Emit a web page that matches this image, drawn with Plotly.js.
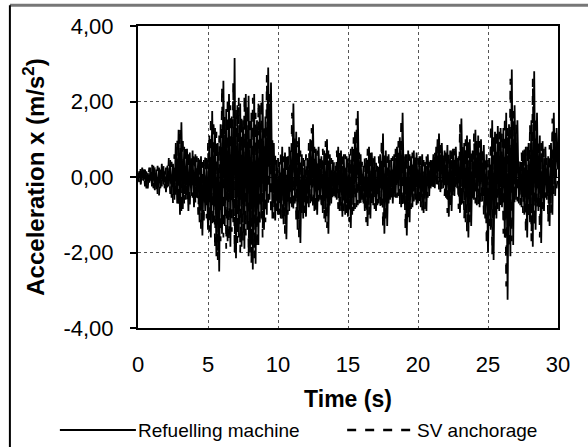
<!DOCTYPE html>
<html>
<head>
<meta charset="utf-8">
<script src="https://cdn.plot.ly/plotly-3.0.1.min.js"></script>
<style>html,body{margin:0;padding:0;background:#fff}#chart{width:588px;height:447px}</style>
</head>
<body>
<div id="chart"></div>
<script>
// sampling step (s) of both records, start time 0 s
const dt = 0.1;
const seriesNames = ["Refuelling machine", "SV anchorage"];
const xTickVals = [0, 5, 10, 15, 20, 25, 30];
const yTickVals = [-4, -2, 0, 2, 4];
const yTickText = ["-4,00", "-2,00", "0,00", "2,00", "4,00"];

// Refuelling machine acceleration (m/s2), 0.1 s steps from 0 to 30 s
const refuelling = [
 0.00, 0.15,-0.20, 0.25,-0.10, 0.20,-0.30, 0.10,-0.15, 0.25,
-0.25, 0.30,-0.35, 0.20,-0.45, 0.25,-0.30, 0.35,-0.20, 0.15,
-0.40, 0.30,-0.25, 0.45,-0.55, 0.35,-0.60, 0.90,-0.70, 1.25,
-1.00, 1.45,-0.85, 0.80,-0.60, 0.75,-0.90, 0.65,-0.50, 0.70,
-0.80, 0.60,-0.55, 0.50,-1.20, 0.55,-1.55, 0.45,-0.90, 0.50,
-1.40, 1.10,-1.60, 1.75,-1.20, 1.30,-2.10, 0.90,-2.50, 1.40,
-1.50, 2.55,-1.30, 1.80,-1.70, 2.20,-1.85, 1.60,-1.20, 3.15,
-2.15, 1.90,-1.60, 1.95,-1.85, 1.50,-1.90, 2.20,-1.40, 2.15,
-2.00, 1.70,-2.45, 2.20,-2.30, 1.50,-1.80, 1.90,-1.10, 2.20,
-1.40, 1.60,-1.00, 2.90,-0.60, 2.50,-1.10, 0.90,-1.15, 0.45,
-1.00, 0.40,-1.10, 0.80,-1.25, 0.65,-1.65, 0.55,-0.90, 0.70,
-0.80, 1.95,-0.70, 1.20,-1.40, 1.05,-1.75, 0.60,-1.10, 0.45,
-1.05, 0.50,-0.80, 1.00,-0.65, 1.40,-0.90, 0.75,-1.00, 0.80,
-0.60, 0.55,-0.95, 0.70,-1.20, 1.00,-1.50, 0.60,-0.70, 0.45,
-0.50, 0.30,-0.60, 0.80,-0.90, 0.70,-1.05, 0.60,-1.00, 0.55,
-1.05, 0.60,-1.35, 0.80,-0.90, 1.20,-0.80, 1.75,-0.70, 0.60,
-0.60, 0.30,-0.90, 0.50,-1.30, 0.80,-1.10, 0.65,-0.75, 0.55,
-0.90, 0.30,-0.70, 0.60,-0.75, 1.15,-1.50, 0.70,-1.30, 0.60,
-0.60, 0.50,-0.70, 0.60,-0.55, 0.80,-0.50, 1.05,-0.80, 1.70,
-0.70, 0.60,-1.55, 0.70,-1.20, 0.55,-0.80, 0.70,-0.60, 0.65,
-0.70, 0.55,-0.80, 0.60,-0.95, 0.40,-0.90, 0.60,-0.50, 0.45,
-0.25, 0.60,-0.30, 0.80,-0.20, 1.15,-0.40, 0.90,-0.30, 0.70,
-0.55, 0.85,-1.05, 0.70,-0.90, 0.75,-0.50, 0.80,-0.30, 0.55,
-0.95, 1.55,-0.70, 0.90,-1.20, 1.10,-1.60, 1.00,-1.30, 0.70,
-0.60, 1.25,-0.75, 1.10,-0.80, 1.00,-0.65, 0.85,-1.10, 0.60,
-2.00, 0.50,-1.40, 1.50,-2.20, 1.20,-1.10, 1.35,-0.90, 1.30,
-0.80, 1.30,-1.60, 1.70,-3.25, 1.40,-2.10, 2.85,-1.80, 1.90,
-0.60, 1.50,-0.70, 0.40,-0.80, 0.70,-1.00, 0.80,-1.60, 0.90,
-1.20, 1.50,-1.85, 2.80,-1.40, 1.70,-0.90, 1.10,-1.75, 0.95,
-0.90, 0.80,-0.60, 0.55,-1.30, 0.90,-1.00, 1.70,-0.50, 1.30,
 0.20
];

// SV anchorage acceleration (m/s2), 0.1 s steps from 0 to 30 s
const svAnchorage = [
 0.10,-0.20, 0.30,-0.15, 0.20,-0.25, 0.15,-0.30, 0.25,-0.10,
 0.35,-0.30, 0.25,-0.40, 0.30,-0.50, 0.20,-0.25, 0.40,-0.30,
 0.25,-0.35, 0.50,-0.45, 0.40,-0.70, 0.60,-0.55, 1.00,-0.75,
 1.30,-0.95, 1.05,-0.70, 0.85,-0.65, 0.70,-0.80, 0.60,-0.55,
 0.65,-0.70, 0.55,-1.00, 0.50,-1.40, 0.40,-1.25, 0.60,-1.10,
 0.90,-1.45, 1.60,-1.30, 1.50,-1.90, 1.20,-2.20, 1.10,-1.70,
 2.40,-1.60, 1.60,-1.90, 2.10,-1.70, 1.90,-1.45, 2.50,-2.00,
 1.80,-1.75, 2.10,-2.00, 1.60,-1.70, 2.15,-1.55, 1.90,-2.10,
 1.60,-2.30, 2.10,-2.15, 1.70,-1.90, 2.00,-1.30, 2.05,-1.60,
 1.40,-1.20, 2.70,-0.80, 2.20,-1.00, 1.00,-1.10, 0.60,-0.90,
 0.50,-1.00, 0.70,-1.15, 0.55,-1.50, 0.60,-1.00, 0.80,-0.70,
 1.70,-0.90, 1.10,-1.20, 0.95,-1.60, 0.70,-1.00, 0.50,-0.95,
 0.60,-0.70, 0.90,-0.75, 1.30,-0.85, 0.80,-0.95, 0.70,-0.65,
 0.60,-0.85, 0.75,-1.10, 0.95,-1.35, 0.70,-0.80, 0.50,-0.55,
 0.40,-0.55, 0.70,-0.85, 0.65,-0.95, 0.55,-0.90, 0.60,-0.95,
 0.55,-1.20, 0.75,-1.00, 1.05,-0.85, 1.55,-0.75, 0.65,-0.70,
 0.40,-0.80, 0.55,-1.20, 0.75,-1.00, 0.70,-0.80, 0.50,-0.85,
 0.40,-0.75, 0.55,-0.80, 1.00,-1.35, 0.65,-1.20, 0.55,-0.70,
 0.45,-0.65, 0.55,-0.60, 0.75,-0.55, 0.95,-0.75, 1.55,-0.80,
 0.55,-1.40, 0.65,-1.10, 0.60,-0.85, 0.65,-0.65, 0.60,-0.75,
 0.50,-0.75, 0.55,-0.90, 0.45,-0.85, 0.55,-0.55, 0.40,-0.35,
 0.55,-0.35, 0.70,-0.25, 1.05,-0.35, 0.85,-0.35, 0.65,-0.50,
 0.75,-0.95, 0.65,-0.85, 0.70,-0.55, 0.75,-0.35, 0.50,-0.85,
 1.40,-0.75, 0.85,-1.10, 1.00,-1.45, 0.95,-1.20, 0.65,-0.65,
 1.15,-0.70, 1.00,-0.75, 0.95,-0.70, 0.80,-1.00, 0.55,-1.80,
 0.45,-1.30, 1.40,-2.05, 1.10,-1.00, 1.25,-0.85, 1.20,-0.75,
 1.20,-1.50, 1.60,-2.90, 1.30,-1.90, 2.60,-1.70, 1.75,-0.70,
 1.40,-0.65, 0.45,-0.75, 0.65,-0.95, 0.75,-1.50, 0.85,-1.10,
 1.40,-1.70, 2.60,-1.30, 1.60,-0.85, 1.00,-1.60, 0.90,-0.85,
 0.75,-0.55, 0.50,-1.20, 0.85,-0.95, 1.55,-0.45, 1.20,-0.30,
 0.10
];

const FONT = "Liberation Sans, Arial, sans-serif";

const traces = [
  {type: "scatter", mode: "lines", name: seriesNames[0], x0: 0, dx: dt, y: refuelling,
   line: {color: "#000", width: 1.8}},
  {type: "scatter", mode: "lines", name: seriesNames[1], x0: 0, dx: dt, y: svAnchorage,
   line: {color: "#000", width: 1.8, dash: "dash"}}
];

const layout = {
  width: 588, height: 447,
  margin: {l: 138, r: 30, t: 26, b: 119},
  paper_bgcolor: "#fff", plot_bgcolor: "#fff",
  showlegend: false,
  font: {family: FONT, color: "#000"},
  xaxis: {
    range: [0, 30], tickvals: xTickVals, ticks: "",
    showline: true, linecolor: "#000", linewidth: 2, mirror: true,
    showgrid: true, gridcolor: "#555", griddash: "dot", gridwidth: 1,
    zeroline: false,
    tickfont: {family: FONT, size: 22, color: "#000"},
    ticklabelstandoff: 16,
    title: {text: "<b>Time (s)</b>", font: {family: FONT, size: 23, color: "#000"}, standoff: 14}
  },
  yaxis: {
    range: [-4, 4], tickvals: yTickVals, ticktext: yTickText,
    ticks: "outside", ticklen: 6, tickcolor: "#000", tickwidth: 2,
    showline: true, linecolor: "#000", linewidth: 2, mirror: true,
    showgrid: true, gridcolor: "#555", griddash: "dot", gridwidth: 1,
    zeroline: true, zerolinecolor: "#000", zerolinewidth: 1,
    tickfont: {family: FONT, size: 22, color: "#000"},
    ticklabelstandoff: 12,
    title: {text: "<b>Acceleration x (m/s<sup>2</sup>)</b>", font: {family: FONT, size: 24, color: "#000"}, standoff: 12}
  },
  shapes: [
    // outer frame pieces
    {type: "line", xref: "paper", yref: "paper", x0: -0.305, x1: 1.1, y0: 1.069, y1: 1.069,
     line: {color: "#777", width: 3}},
    {type: "line", xref: "paper", yref: "paper", x0: -0.305, x1: -0.305, y0: 1.069, y1: -0.4,
     line: {color: "#000", width: 2}},
    // legend samples
    {type: "line", xref: "paper", yref: "paper", x0: -0.186, x1: -0.005, y0: -0.338, y1: -0.338,
     line: {color: "#000", width: 2}},
    {type: "line", xref: "paper", yref: "paper", x0: 0.498, x1: 0.66, y0: -0.338, y1: -0.338,
     line: {color: "#000", width: 2.5, dash: "dash"}}
  ],
  annotations: [
    {xref: "paper", yref: "paper", x: -0.005, y: -0.338, xanchor: "left", yanchor: "middle",
     text: seriesNames[0], showarrow: false, font: {family: FONT, size: 19, color: "#000"}},
    {xref: "paper", yref: "paper", x: 0.66, y: -0.338, xanchor: "left", yanchor: "middle",
     text: seriesNames[1], showarrow: false, font: {family: FONT, size: 19, color: "#000"}}
  ]
};

Plotly.newPlot("chart", traces, layout, {staticPlot: true, displayModeBar: false});
</script>
</body>
</html>
